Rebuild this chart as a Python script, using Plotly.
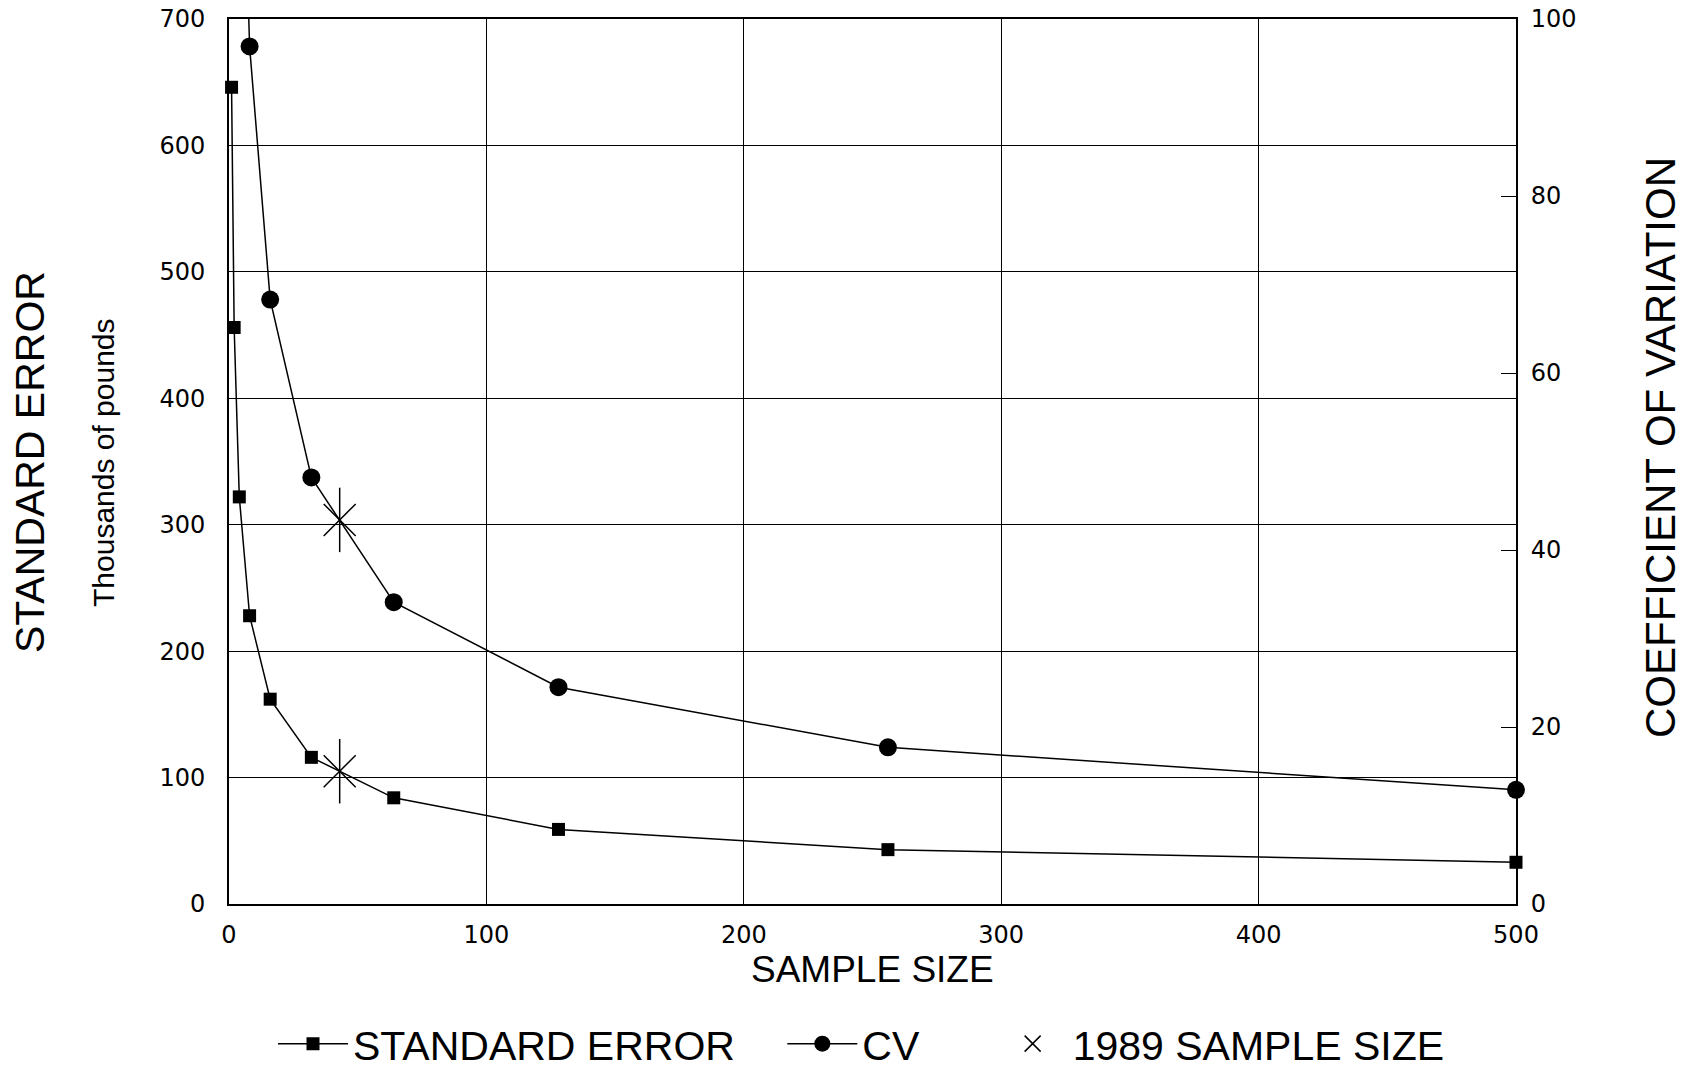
import plotly.graph_objects as go

# ---------------- data ----------------
sample_size = [1, 2, 4, 8, 16, 32, 64, 128, 256, 500]
standard_error = [646, 456, 322, 228, 162, 116, 84, 59, 43, 33]

cv_sample_size = [4, 8, 16, 32, 64, 128, 256, 500]
cv_values = [137, 96.9, 68.3, 48.2, 34.1, 24.5, 17.7, 12.9]

sample_1989 = [43]
se_1989 = [105]
cv_1989 = [43.4]

x_ticks = [0, 100, 200, 300, 400, 500]
y_ticks = [0, 100, 200, 300, 400, 500, 600, 700]
y2_ticks = [0, 20, 40, 60, 80, 100]

# ---------------- styles ----------------
TICK_FONT = dict(family="DejaVu Sans", size=24, color="black")
BIG_FAMILY = "Liberation Sans, Arial, Helvetica, sans-serif"
TITLE_FONT = dict(family=BIG_FAMILY, size=41, color="black")
NB = "\u00a0"
THIN = "\u2009"

fig = go.Figure()

fig.add_trace(go.Scatter(
    x=sample_size, y=standard_error, mode="lines+markers",
    name="STANDARD ERROR" + NB * 3 + THIN,
    line=dict(color="black", width=1.5),
    marker=dict(symbol="square", size=13, color="black"),
    cliponaxis=False,
))
fig.add_trace(go.Scatter(
    x=cv_sample_size, y=cv_values, mode="lines+markers", yaxis="y2",
    name="CV" + NB * 6,
    line=dict(color="black", width=1.5),
    marker=dict(symbol="circle", size=18, color="black"),
    cliponaxis=False,
))
star_common = dict(mode="markers", cliponaxis=False, legendgroup="s1989")
fig.add_trace(go.Scatter(
    x=sample_1989, y=se_1989, name="1989 SAMPLE SIZE",
    marker=dict(symbol="x-thin-open", size=32, color="black",
                line=dict(color="black", width=1.5)),
    **star_common))
fig.add_trace(go.Scatter(
    x=sample_1989, y=se_1989, showlegend=False,
    marker=dict(symbol="line-ns-open", size=46, color="black",
                line=dict(color="black", width=1.5)),
    **star_common))
fig.add_trace(go.Scatter(
    x=sample_1989, y=cv_1989, yaxis="y2", showlegend=False,
    marker=dict(symbol="x-thin-open", size=32, color="black",
                line=dict(color="black", width=1.5)),
    **star_common))
fig.add_trace(go.Scatter(
    x=sample_1989, y=cv_1989, yaxis="y2", showlegend=False,
    marker=dict(symbol="line-ns-open", size=46, color="black",
                line=dict(color="black", width=1.5)),
    **star_common))

L, R, T, B = 229, 176, 19, 175
W, H = 1692, 1079
pw, ph = W - L - R, H - T - B


def px_x(x):
    return (x - L) / pw


def px_y(y):
    return (H - B - y) / ph


fig.update_layout(
    width=W, height=H,
    margin=dict(l=L, r=R, t=T, b=B, pad=0, autoexpand=False),
    paper_bgcolor="white", plot_bgcolor="white",
    showlegend=True,
    legend=dict(
        orientation="h", x=px_x(273), xanchor="left",
        y=px_y(1044), yanchor="middle",
        font=TITLE_FONT, itemwidth=70, bgcolor="rgba(0,0,0,0)",
        traceorder="normal",
    ),
    xaxis=dict(
        range=[0, 500], tickvals=x_ticks, ticktext=[str(v) for v in x_ticks],
        showgrid=True, gridcolor="black", gridwidth=1.3,
        showline=True, linecolor="black", linewidth=2, mirror=True,
        zeroline=False, ticks="", tickfont=TICK_FONT, ticklabelstandoff=8,
    ),
    yaxis=dict(
        range=[0, 700], tickvals=y_ticks, ticktext=[str(v) for v in y_ticks],
        showgrid=True, gridcolor="black", gridwidth=1.3,
        showline=True, linecolor="black", linewidth=2, mirror=True,
        zeroline=False, ticks="", tickfont=TICK_FONT, ticklabelstandoff=17,
    ),
    yaxis2=dict(
        overlaying="y", side="right",
        range=[0, 100], tickvals=y2_ticks, ticktext=[str(v) for v in y2_ticks],
        showgrid=False, zeroline=False,
        showline=True, linecolor="black", linewidth=2,
        ticks="inside", ticklen=15, tickwidth=1.3, tickcolor="black",
        tickfont=TICK_FONT, ticklabelstandoff=8,
    ),
    annotations=[
        dict(text="STANDARD ERROR", xref="paper", yref="paper",
             x=px_x(30), y=px_y(462), xanchor="center", yanchor="middle",
             textangle=-90, showarrow=False, font=TITLE_FONT),
        dict(text="Thousands of pounds", xref="paper", yref="paper",
             x=px_x(103), y=px_y(463), xanchor="center", yanchor="middle",
             textangle=-90, showarrow=False,
             font=dict(family=BIG_FAMILY, size=30, color="black")),
        dict(text="COEFFICIENT OF VARIATION", xref="paper", yref="paper",
             x=px_x(1660), y=px_y(448), xanchor="center", yanchor="middle",
             textangle=-90, showarrow=False,
             font=dict(family=BIG_FAMILY, size=42, color="black")),
        dict(text="SAMPLE SIZE", xref="paper", yref="paper",
             x=0.5, y=px_y(969), xanchor="center", yanchor="middle",
             showarrow=False, font=dict(family=BIG_FAMILY, size=37, color="black")),
    ],
)

fig.write_html("out.html", config={"displayModeBar": False},
               post_script="document.body.style.margin='0';")
